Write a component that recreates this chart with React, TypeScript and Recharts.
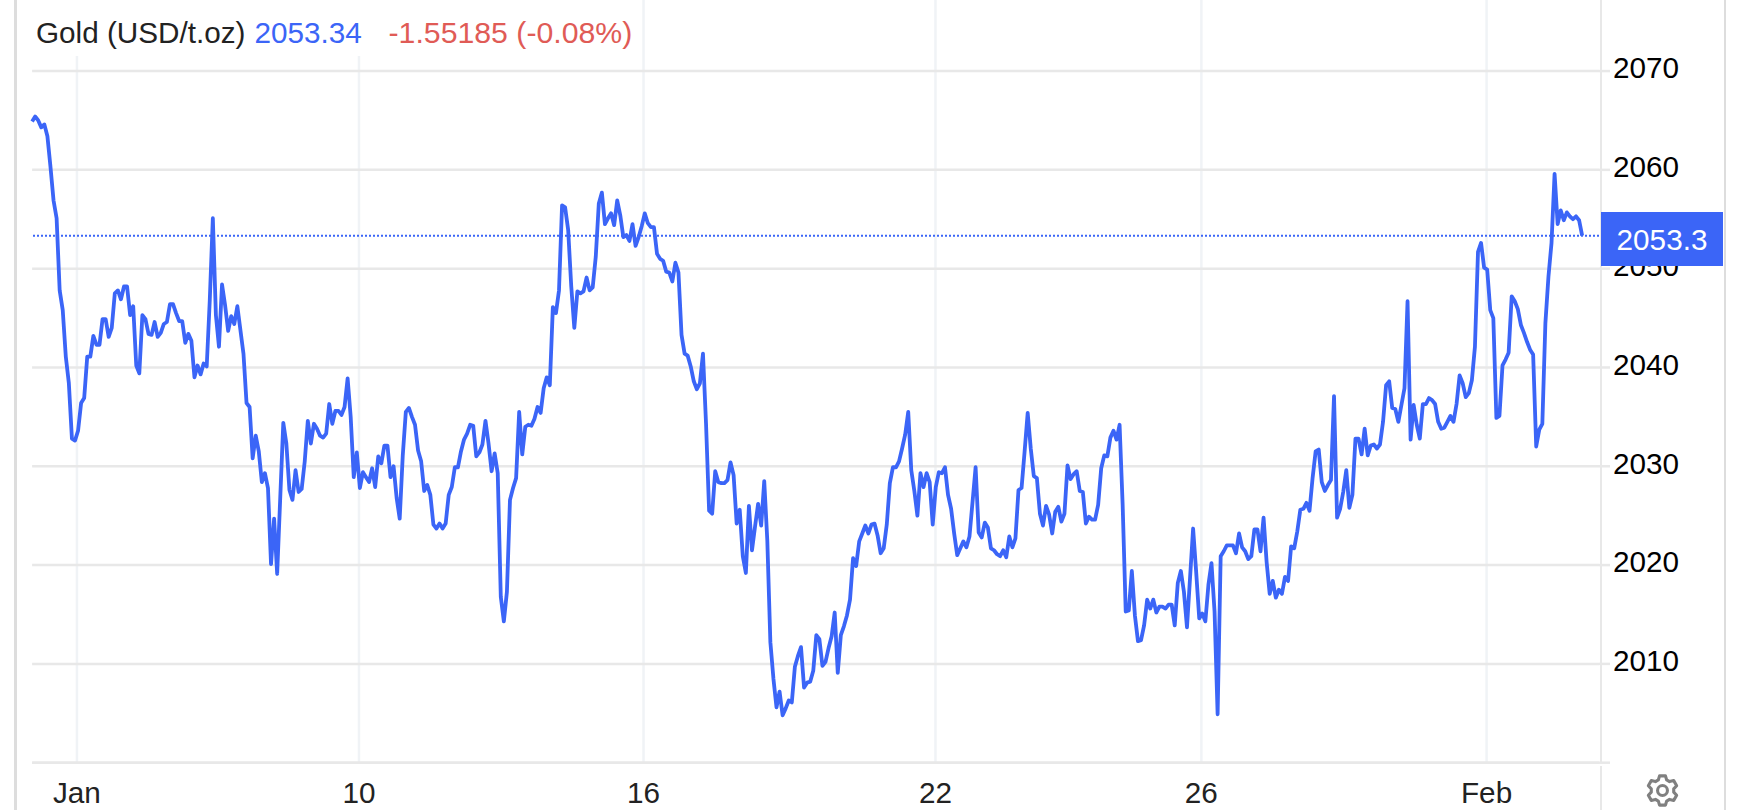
import React from "react";
import { ComposedChart, Line, XAxis, YAxis, CartesianGrid, ReferenceLine } from "recharts";

const FONT = '"Liberation Sans", Arial, sans-serif';
const BLUE = "#3B65F7";
const RED = "#E05B56";
const INK = "#222222";
const TEXT_SIZE = 29.7;

const instrumentName = "Gold (USD/t.oz)";
const lastPriceText = "2053.34";
const changeText = "-1.55185 (-0.08%)";
const lastPrice = 2053.34;
const tagText = "2053.3";

const dateTickPositions = [14.64, 106.7, 199.6, 294.9, 381.7, 474.8];
const dateTickLabels = ["Jan", "10", "16", "22", "26", "Feb"];
const priceTicks = [2000, 2010, 2020, 2030, 2040, 2050, 2060, 2070];

const pricesA = [
  2064.9, 2065.4, 2065.0, 2064.3, 2064.6, 2063.4, 2060.3, 2056.9, 2055.1, 2047.8, 2045.8, 2041.1, 2038.4, 2032.8, 2032.6, 2033.6, 2036.4,
  2036.9, 2041.1, 2041.1, 2043.2, 2042.3, 2042.3, 2044.9, 2044.9, 2043.1, 2044.0, 2047.5, 2047.8, 2046.9, 2048.2, 2048.2, 2045.3, 2046.2,
  2040.2, 2039.4, 2045.3, 2044.9, 2043.4, 2043.3, 2044.6, 2043.1, 2043.5, 2044.4, 2044.6, 2046.4, 2046.4, 2045.5, 2044.7, 2044.7, 2042.5,
  2043.4, 2042.7, 2039.0, 2040.2, 2039.3, 2040.4, 2040.1, 2046.8, 2055.1, 2045.3, 2042.1, 2048.4, 2046.3, 2043.7, 2045.2, 2044.4, 2046.2,
  2043.8, 2041.4, 2036.4, 2036.0, 2030.8, 2033.1, 2031.5, 2028.4, 2029.3, 2027.8, 2020.1, 2024.7, 2019.1, 2026.8, 2034.4, 2032.3, 2027.6,
  2026.6, 2029.6, 2027.4, 2027.7, 2030.5, 2034.6, 2032.3, 2034.3, 2033.8, 2033.1, 2032.9, 2033.3, 2036.3, 2034.3, 2035.6, 2035.6, 2035.2,
  2036.0, 2038.9, 2035.0, 2028.9, 2031.4, 2027.8, 2029.4, 2028.9, 2028.4, 2029.8, 2027.9, 2031.0, 2030.3, 2032.1, 2032.1, 2028.9, 2030.0,
  2026.8, 2024.7, 2031.1, 2035.5, 2035.9, 2035.0, 2034.2, 2031.6, 2030.5, 2027.5, 2028.1, 2027.1, 2024.1, 2023.7, 2024.2, 2023.7, 2024.2,
  2027.1, 2027.9, 2029.9, 2029.9, 2031.5, 2032.7, 2033.3, 2034.2, 2034.1, 2031.0, 2031.4, 2032.2, 2034.6, 2032.3, 2029.5, 2031.3, 2029.3,
  2016.8, 2014.3, 2017.3, 2026.6, 2027.8, 2028.8, 2035.5, 2031.2, 2034.0, 2034.2, 2034.1, 2034.8, 2036.0, 2035.4, 2037.9, 2039.0, 2038.2,
  2046.1, 2045.5, 2047.8, 2056.4, 2056.2, 2053.9, 2048.2, 2044.0, 2047.7,
];
const pricesB = [
  2047.5, 2047.7, 2049.1, 2047.8, 2048.1, 2051.2, 2056.6, 2057.7, 2054.5, 2055.1, 2055.6, 2054.4, 2056.9, 2055.4, 2053.2, 2053.4, 2052.8,
  2054.5, 2052.3, 2053.2, 2054.3, 2055.6, 2054.6, 2054.2, 2054.2, 2051.5, 2051.0, 2050.8, 2049.7, 2049.6, 2048.7, 2050.6, 2049.6, 2043.3,
  2041.4, 2041.2, 2040.1, 2038.6, 2037.8, 2038.4, 2041.4, 2034.3, 2025.5, 2025.2, 2029.5, 2028.4, 2028.3, 2028.3, 2028.6, 2030.4, 2029.1,
  2024.2, 2025.6, 2020.9, 2019.2, 2026.0, 2021.5, 2023.9, 2026.2, 2024.0, 2028.5, 2022.5, 2012.2, 2008.5, 2005.6, 2007.2, 2004.8, 2005.5,
  2006.3, 2006.1, 2009.7, 2010.8, 2011.7, 2007.6, 2008.1, 2008.2, 2009.3, 2012.9, 2012.5, 2009.8, 2010.2, 2011.6, 2012.8, 2015.2, 2009.1,
  2012.9, 2013.8, 2014.9, 2016.5, 2020.7, 2019.9, 2022.4, 2023.2, 2024.0, 2023.2, 2024.1, 2024.2, 2023.0, 2021.2, 2021.7, 2024.1, 2028.3,
  2029.9, 2029.9, 2030.5, 2031.8, 2033.2, 2035.5, 2029.6, 2027.5, 2025.0, 2029.3, 2027.9, 2029.3, 2028.4, 2024.1, 2027.9, 2029.4, 2029.3,
  2029.9, 2027.1, 2025.7, 2023.2, 2021.0, 2021.7, 2022.4, 2021.8, 2022.9, 2026.4, 2029.9, 2023.3, 2022.8, 2024.3, 2023.8, 2021.7, 2021.5,
  2021.1, 2020.9, 2021.5, 2020.8, 2022.9, 2021.8, 2022.7, 2027.6, 2027.8, 2031.5, 2035.4, 2031.8, 2029.0, 2028.8, 2025.2, 2024.0, 2026.0,
  2025.1, 2023.2, 2025.4, 2025.9, 2024.4, 2025.2, 2030.1, 2028.7, 2029.2, 2029.5, 2027.5, 2027.4, 2024.2, 2024.9, 2024.6, 2024.6, 2026.1,
  2029.8, 2031.1, 2031.0, 2032.9, 2033.6, 2032.7, 2034.2, 2026.1, 2015.3, 2015.4, 2019.4, 2014.9, 2012.3, 2012.4, 2013.9, 2016.5, 2015.6,
  2016.5, 2015.2, 2015.8,
];
const pricesC = [
  2015.8, 2015.6, 2016.0, 2016.0, 2013.9, 2018.2, 2019.4, 2017.3, 2013.7, 2018.7, 2023.7, 2019.3, 2014.6, 2015.1, 2014.3, 2018.0, 2020.2,
  2015.3, 2004.9, 2020.9, 2021.4, 2022.0, 2022.0, 2022.0, 2021.2, 2023.2, 2021.8, 2021.4, 2020.6, 2020.9, 2023.6, 2023.6, 2021.4, 2024.8,
  2020.3, 2017.1, 2018.4, 2016.7, 2017.5, 2017.1, 2018.8, 2018.4, 2021.9, 2021.7, 2023.4, 2025.6, 2025.7, 2026.3, 2025.5, 2028.8, 2031.5,
  2031.7, 2028.4, 2027.5, 2028.1, 2028.6, 2037.1, 2024.8, 2025.7, 2027.4, 2029.6, 2025.8, 2027.1, 2032.8, 2032.8, 2031.2, 2033.8, 2031.1,
  2032.1, 2032.2, 2031.8, 2032.2, 2034.5, 2038.2, 2038.6, 2035.9, 2035.8, 2034.5, 2036.2, 2037.9, 2046.7, 2032.7, 2036.2, 2034.2, 2032.8,
  2036.3, 2036.3, 2036.9, 2036.7, 2036.3, 2034.5, 2033.8, 2033.9, 2034.5, 2035.1, 2034.5, 2036.3, 2039.2, 2038.4, 2037.0, 2037.4, 2038.7,
  2042.1, 2051.7, 2052.6, 2050.1, 2049.9, 2045.8, 2045.0, 2034.9, 2035.1, 2040.2, 2040.8, 2041.5, 2047.2, 2046.7, 2045.9, 2044.3, 2043.5,
  2042.6, 2041.8, 2041.3, 2032.0, 2033.7, 2034.3, 2044.5, 2049.2, 2052.6, 2059.6, 2054.5, 2055.9, 2054.9, 2055.7, 2055.3, 2055.0, 2055.3,
  2054.9, 2053.34,
];

const prices = [...pricesA, ...pricesB, ...pricesC];
const rows = prices.map((price, step) => ({ step, price }));

const PriceTick = (props: any) => {
  const { x, y, payload } = props;
  if (payload.value === 2000) return null;
  return (
    <text x={x} y={y - 3.2} dy="0.355em" textAnchor="start" fontFamily={FONT} fontSize={TEXT_SIZE} fill="#000000">
      {payload.value}
    </text>
  );
};

const DateTick = (props: any) => {
  const { x, y, payload, index } = props;
  return (
    <text x={x} y={y} dy="0.355em" textAnchor="middle" fontFamily={FONT} fontSize={TEXT_SIZE} fill={INK}>
      {dateTickLabels[index] ?? payload.value}
    </text>
  );
};

const gearPath = (() => {
  const pts: string[] = [];
  const teeth = 6;
  for (let t = 0; t < teeth; t++) {
    const a = (t / teeth) * Math.PI * 2 - Math.PI / 2;
    const w = Math.PI / teeth;
    const outer = 14.5;
    const inner = 11;
    const seq: [number, number][] = [
      [inner, a - w * 0.72],
      [outer, a - w * 0.38],
      [outer, a + w * 0.38],
      [inner, a + w * 0.72],
    ];
    seq.forEach(([r, an]) => pts.push(`${(16 + r * Math.cos(an)).toFixed(2)},${(16 + r * Math.sin(an)).toFixed(2)}`));
  }
  return `M${pts.join("L")}Z`;
})();

const rule = (left: number, top: number, width: number, height: number, background: string): React.CSSProperties => ({
  position: "absolute",
  left,
  top,
  width,
  height,
  background,
});

export default function App() {
  return (
    <div style={{ position: "absolute", left: 0, top: 0, width: 1742, height: 810, background: "#FFFFFF", overflow: "hidden" }}>
      <div style={{ position: "absolute", left: 0, top: 0 }}>
        <ComposedChart
          width={1742}
          height={810}
          data={rows}
          margin={{ top: 0, right: 0, bottom: 0, left: 32.1 }}
        >
          <CartesianGrid horizontal={false} vertical syncWithTicks stroke="#F0F3F6" strokeWidth={2.5} />
          <CartesianGrid horizontal vertical={false} syncWithTicks stroke="#E8E8E8" strokeWidth={2.5} />
          <XAxis
            dataKey="step"
            type="number"
            domain={[0, 511.5]}
            ticks={dateTickPositions}
            height={47.3}
            interval={0}
            tickLine={false}
            axisLine={{ stroke: "#E8E8E8", strokeWidth: 2.5 }}
            tick={<DateTick />}
            tickSize={0}
            tickMargin={30}
          />
          <YAxis
            orientation="right"
            type="number"
            domain={[2000, 2077.19]}
            ticks={priceTicks}
            interval={0}
            width={143}
            axisLine={false}
            tickLine={{ stroke: "#E8E8E8", strokeWidth: 2.5 }}
            tickSize={11}
            tickMargin={3}
            tick={<PriceTick />}
          />
          <ReferenceLine
            y={lastPrice}
            stroke={BLUE}
            strokeWidth={2}
            strokeDasharray="2 2"
            ifOverflow="visible"
          />
          <Line
            dataKey="price"
            type="linear"
            stroke={BLUE}
            strokeWidth={3.8}
            dot={false}
            isAnimationActive={false}
            strokeLinejoin="round"
          />
        </ComposedChart>
      </div>

      <div
        style={{
          ...rule(17, 0, 625, 56, "#FFFFFF"),
          fontFamily: FONT,
          fontSize: TEXT_SIZE,
          whiteSpace: "pre",
          lineHeight: "33px",
        }}
      >
        <span style={{ position: "absolute", left: 19, top: 16, color: INK }}>{instrumentName}</span>
        <span style={{ position: "absolute", left: 237.5, top: 16, color: BLUE }}>{lastPriceText}</span>
        <span style={{ position: "absolute", left: 371.5, top: 16, color: RED, fontSize: 30.25 }}>{changeText}</span>
      </div>

      <div style={rule(14.2, 0, 2.7, 810, "#DDDDDD")} />
      <div style={rule(1723.6, 0, 2.7, 810, "#DDDDDD")} />
      <div style={rule(1599.8, 0, 2.4, 763, "#E8E8E8")} />
      <div style={rule(1599.8, 766, 2.4, 44, "#E8E8E8")} />

      <div
        style={{
          ...rule(1601, 212, 122, 53.7, BLUE),
          color: "#FFFFFF",
          fontFamily: FONT,
          fontSize: TEXT_SIZE,
          lineHeight: "56px",
          textAlign: "center",
        }}
      >
        {tagText}
      </div>

      <svg style={{ position: "absolute", left: 1646.2, top: 773.5 }} width={33} height={33} viewBox="0 0 32 32">
        <path d={gearPath} fill="none" stroke="#808080" strokeWidth={3} strokeLinejoin="round" />
        <circle cx={16} cy={16} r={4.8} fill="none" stroke="#808080" strokeWidth={3} />
      </svg>
    </div>
  );
}
